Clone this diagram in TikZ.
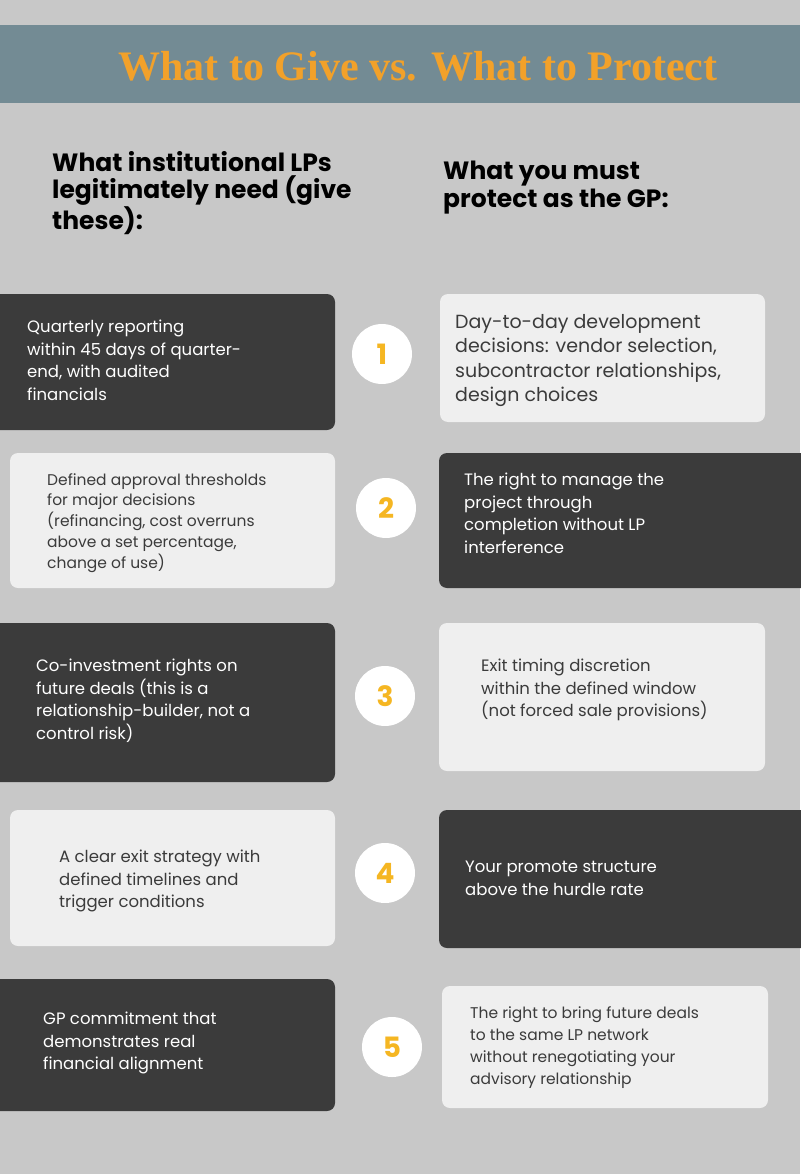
\documentclass[tikz,border=0pt]{standalone}
\usepackage{fontspec}
\setmainfont{Poppins}
\newfontfamily\titlefont{Liberation Serif}
\definecolor{bg}{HTML}{C8C8C8}
\definecolor{bar}{HTML}{738B94}
\definecolor{ttl}{HTML}{F2A12A}
\definecolor{dk}{HTML}{3B3B3B}
\definecolor{lt}{HTML}{EFEFEF}
\definecolor{num}{HTML}{F5B622}
\tikzset{
 dkbox/.style={fill=dk,rounded corners=8pt},
 ltbox/.style={fill=lt,rounded corners=8pt},
 wtxt/.style={anchor=north west,inner sep=0,align=left,text=white,font=\fontsize{16.5}{22.5}\selectfont},
 btxt/.style={anchor=north west,inner sep=0,align=left,text=dk,font=\fontsize{16.5}{22.5}\selectfont},
 numc/.style={circle,fill=white,minimum size=60pt,inner sep=0,text=num,font=\bfseries\fontsize{28}{30}\selectfont},
 hdr/.style={anchor=north west,inner sep=0,align=left,font=\bfseries\fontsize{25}{27.5}\selectfont}
}
\begin{document}
\begin{tikzpicture}[x=1pt,y=-1pt]
\useasboundingbox (0,0) rectangle (800,1174);
\fill[bg] (0,0) rectangle (800,1174);
\fill[bar] (0,25) rectangle (800,103);
\node[text=ttl,font=\titlefont\bfseries\fontsize{42}{44}\selectfont] (title) at (418,66) {What to Give vs. What to Protect};
\node[hdr] (hl) at (52,151) {What institutional LPs\\legitimately need (give\\these):};
\node[hdr] (hr) at (443,161) {What you must\\protect as the GP:};
% row 1
\fill[dkbox] (-10,294) rectangle (335,430);
\node[wtxt] (l1) at (27,320) {Quarterly reporting\\within 45 days of quarter-\\end, with audited\\financials};
\fill[ltbox] (440,294) rectangle (765,422);
\node[btxt,font=\fontsize{19}{24.5}\selectfont] (r1) at (455,314) {Day-to-day development\\decisions: vendor selection,\\subcontractor relationships,\\design choices};
\node[numc] (n1) at (382,354) {1};
% row 2
\fill[ltbox] (10,453) rectangle (335,588);
\node[btxt,font=\fontsize{15.5}{20.8}\selectfont] (l2) at (47,473) {Defined approval thresholds\\for major decisions\\(refinancing, cost overruns\\above a set percentage,\\change of use)};
\fill[dkbox] (439,453) rectangle (810,588);
\node[wtxt] (r2) at (464,473) {The right to manage the\\project through\\completion without LP\\interference};
\node[numc] (n2) at (386,508) {2};
% row 3
\fill[dkbox] (-10,623) rectangle (335,782);
\node[wtxt] (l3) at (36,659) {Co-investment rights on\\future deals (this is a\\relationship-builder, not a\\control risk)};
\fill[ltbox] (439,623) rectangle (765,771);
\node[btxt] (r3) at (481,659) {Exit timing discretion\\within the defined window\\(not forced sale provisions)};
\node[numc] (n3) at (385,696) {3};
% row 4
\fill[ltbox] (10,810) rectangle (335,946);
\node[btxt] (l4) at (59,850) {A clear exit strategy with\\defined timelines and\\trigger conditions};
\fill[dkbox] (439,810) rectangle (810,948);
\node[wtxt] (r4) at (465,861) {Your promote structure\\above the hurdle rate};
\node[numc] (n4) at (385,873) {4};
% row 5
\fill[dkbox] (-10,979) rectangle (335,1111);
\node[wtxt] (l5) at (43,1012) {GP commitment that\\demonstrates real\\financial alignment};
\fill[ltbox] (442,986) rectangle (768,1108);
\node[btxt,font=\fontsize{15.5}{22.3}\selectfont] (r5) at (470,1006) {The right to bring future deals\\to the same LP network\\without renegotiating your\\advisory relationship};
\node[numc] (n5) at (392,1047) {5};
\end{tikzpicture}
\end{document}
